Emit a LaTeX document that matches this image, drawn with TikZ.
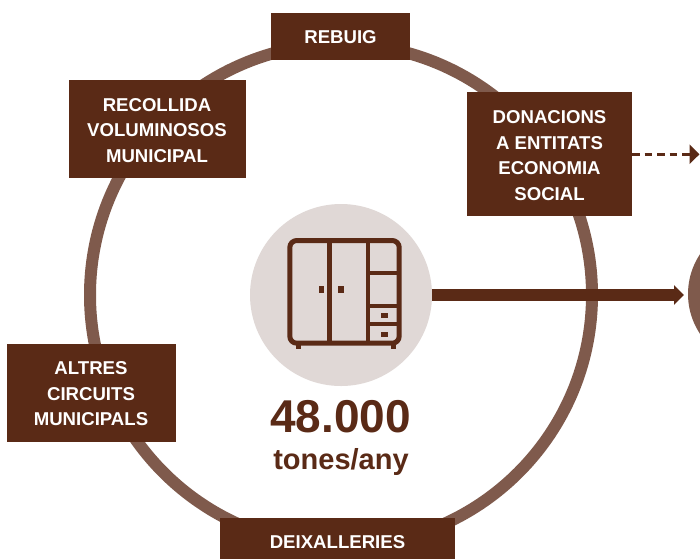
\documentclass[tikz,border=0pt]{standalone}
\usepackage{fontspec}
\setmainfont{Liberation Sans}
\usetikzlibrary{arrows.meta}
\definecolor{brownD}{HTML}{5A2A16}
\definecolor{brownM}{HTML}{7F5A4C}
\definecolor{brownL}{HTML}{E0D8D6}
\tikzset{
  boxn/.style={fill=brownD,inner sep=0pt},
  boxt/.style={text=white,inner sep=0pt,align=center,font=\fontsize{18.6}{25.5}\selectfont\bfseries},
  cab/.style={draw=brownD,line width=5pt},
  cabfill/.style={fill=brownD},
  bigtxt/.style={text=brownD,inner sep=0pt,font=\bfseries}
}
\begin{document}
\begin{tikzpicture}[x=1pt,y=-1pt]
\clip (0,0) rectangle (700,558);
\fill[white] (0,0) rectangle (700,558);
\node[circle,draw=brownM,line width=12pt,minimum size=502pt,inner sep=0pt] (ring) at (341,295) {};
\node[circle,fill=brownM,minimum size=144pt,inner sep=0pt] (next) at (760,294) {};
\node[circle,fill=brownL,minimum size=182pt,inner sep=0pt] (disk) at (341,295) {};
\node[boxn,minimum width=139pt,minimum height=47pt] (rebuig) at (340.5,36.5) {};
\node[boxn,minimum width=177pt,minimum height=98pt] (recollida) at (157.5,129) {};
\node[boxn,minimum width=165pt,minimum height=124pt] (donacions) at (549.5,154) {};
\node[boxn,minimum width=169pt,minimum height=98pt] (altres) at (91.5,393) {};
\node[boxn,minimum width=235pt,minimum height=48pt] (deix) at (337.5,542) {};
\node[boxt] (rebuigt) at (340.5,37.5) {REBUIG};
\node[boxt] (recollidat) at (157,130.5) {RECOLLIDA\\VOLUMINOSOS\\MUNICIPAL};
\node[boxt] (donacionst) at (549.5,155.5) {DONACIONS\\A ENTITATS\\ECONOMIA\\SOCIAL};
\node[boxt] (altrest) at (91,394) {ALTRES\\CIRCUITS\\MUNICIPALS};
\node[boxt] (deixt) at (337.5,542) {DEIXALLERIES};
\node[bigtxt,font=\fontsize{46}{46}\selectfont\bfseries] (num) at (340.5,416.5) {48.000};
\node[bigtxt,font=\fontsize{29}{29}\selectfont\bfseries] (unit) at (341,462) {tones/any};
% wardrobe
\draw[cab,rounded corners=7pt] (289.8,240.5) rectangle (399.2,343.2);
\draw[cab,line width=4.4pt] (329.3,240) -- (329.3,344);
\draw[cab,line width=4.4pt] (368,240) -- (368,344);
\draw[cab,line width=4.6pt] (368,273) -- (399,273);
\draw[cab,line width=4pt] (368,306) -- (399,306);
\draw[cab,line width=4pt] (368,324) -- (399,324);
\fill[cabfill] (319.2,286.2) rectangle (324.4,293.4);
\fill[cabfill] (338.4,286.2) rectangle (343.6,293.4);
\fill[cabfill] (380.6,313.2) rectangle (387.6,318.2);
\fill[cabfill] (380.6,332) rectangle (387.6,337);
\fill[cabfill] (296.2,345) rectangle (301.4,349.4);
\fill[cabfill] (390.8,345) rectangle (396,349.4);
% arrows
\coordinate (solidend) at (684,295);
\coordinate (dashstart) at (632,154.3);
\coordinate (dashend) at (699.5,154.3);
\draw[brownD,line width=11.5pt,-{Triangle[length=10pt,width=19pt]}] (disk.east) -- (solidend);
\draw[brownD,line width=2.8pt,dash pattern=on 7.5pt off 5pt,-{Triangle[length=10pt,width=19pt]}] (dashstart) -- (dashend);
\end{tikzpicture}
\end{document}
